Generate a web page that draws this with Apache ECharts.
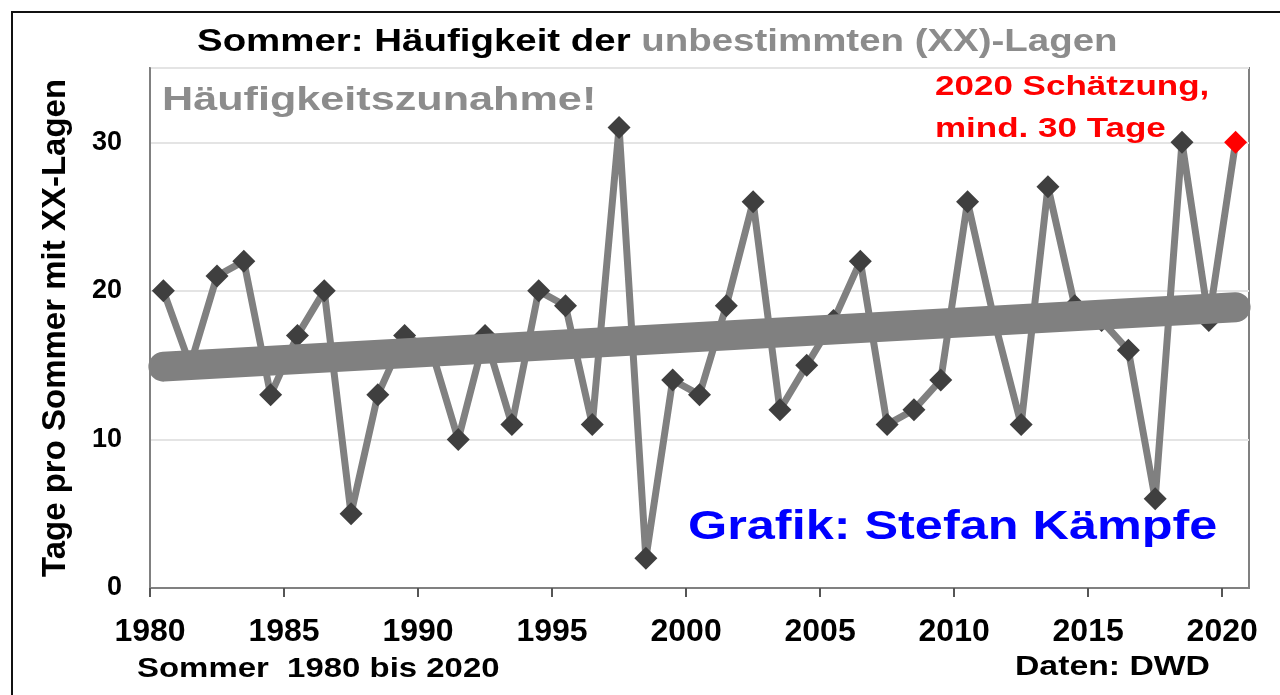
<!DOCTYPE html>
<html>
<head>
<meta charset="utf-8">
<script src="https://cdn.jsdelivr.net/npm/echarts@6/dist/echarts.min.js"></script>
<style>
html, body { margin: 0; padding: 0; background: #fff; }
#chart { width: 1280px; height: 695px; }
</style>
</head>
<body>
<div id="chart"></div>
<script>
// Jahre (Sommer) und Tage mit XX-Lagen
var years = [];
for (var y = 1980; y <= 2020; y++) years.push(String(y));
var xxTage = [20, 15, 21, 22, 13, 17, 20, 5, 13, 17,
              16, 10, 17, 11, 20, 19, 11, 31, 2, 14,
              13, 19, 26, 12, 15, 18, 22, 11, 12, 14,
              26, 18, 11, 27, 19, 18, 16, 6, 30, 18,
              30];
// lineare Trendlinie, Anfang und Ende
var trendLinie = [['1980', 14.9], ['2020', 18.9]];
// 2020 = Schätzung (rot)
var schaetzungJahr = '2020';
var xTicks = [1980, 1985, 1990, 1995, 2000, 2005, 2010, 2015, 2020];
var yTicks = [0, 10, 20, 30];

var FONT = '"Liberation Sans", Arial, sans-serif';
var grau = '#808080';

var punkte = xxTage.map(function (v, i) {
	if (years[i] == schaetzungJahr) {
		return { value: v, itemStyle: { color: '#ff0000' } };
	}
	return v;
});

function txt(x, y, text, size, color, sx, extra) {
	var st = {
		text: text,
		fontFamily: FONT,
		fontWeight: 'bold',
		fontSize: size,
		fill: color,
		align: 'left',
		verticalAlign: 'middle'
	};
	if (extra) for (var k in extra) st[k] = extra[k];
	return { type: 'text', x: x, y: y, scaleX: sx, z: 100, style: st };
}

var chart = echarts.init(document.getElementById('chart'));
var option = {
	backgroundColor: '#fff',
	animation: false,
	grid: {
		left: 150, top: 68, width: 1099, height: 520,
		show: true, borderColor: grau, borderWidth: 2,
		outerBoundsMode: 'none'
	},
	xAxis: [{
		type: 'value',
		min: 1980, max: 2021, interval: 5,
		axisLine: { show: true, lineStyle: { color: grau, width: 2 } },
		axisTick: { show: true, inside: false, length: 9, lineStyle: { color: '#555', width: 2 }, customValues: xTicks },
		axisLabel: {
			customValues: xTicks, margin: 28, color: '#000',
			fontFamily: FONT, fontWeight: 'bold', fontSize: 32,
			formatter: function (v) { return String(v); }
		},
		splitLine: { show: false }
	}, {
		type: 'category',
		data: years,
		boundaryGap: true,
		show: false
	}],
	yAxis: {
		type: 'value',
		min: 0, max: 35, interval: 10,
		name: 'Tage pro Sommer mit XX-Lagen',
		nameLocation: 'middle',
		nameRotate: 90,
		nameGap: 78,
		nameTextStyle: { color: '#000', fontFamily: FONT, fontWeight: 'bold', fontSize: 33 },
		axisLine: { show: true, lineStyle: { color: grau, width: 2 } },
		axisTick: { show: false },
		axisLabel: { customValues: yTicks, margin: 28, color: '#000', fontFamily: FONT, fontWeight: 'bold', fontSize: 27 },
		splitLine: { show: true, lineStyle: { color: '#e4e4e4', width: 2 } }
	},
	series: [{
		name: 'XX-Lagen',
		type: 'line',
		xAxisIndex: 1,
		data: punkte,
		symbol: 'diamond',
		symbolSize: 23,
		showSymbol: true,
		showAllSymbol: true,
		lineStyle: { color: grau, width: 7 },
		itemStyle: { color: '#3f3f3f' },
		z: 2
	}, {
		name: 'Trend',
		type: 'line',
		xAxisIndex: 1,
		data: trendLinie,
		symbol: 'none',
		lineStyle: { color: grau, width: 30, cap: 'round' },
		z: 3
	}],
	graphic: [
		{ type: 'rect', shape: { x: 12, y: 12, width: 1300, height: 720 }, style: { fill: 'none', stroke: '#111', lineWidth: 2 }, z: 0 },
		txt(197, 42, '{a|Sommer: Häufigkeit der }{b|unbestimmten (XX)-Lagen}', 31, '#000', 1.24, {
			rich: {
				a: { fill: '#000', fontFamily: FONT, fontWeight: 'bold', fontSize: 31 },
				b: { fill: '#8c8c8c', fontFamily: FONT, fontWeight: 'bold', fontSize: 31 }
			}
		}),
		txt(162, 101, 'Häufigkeitszunahme!', 34, '#8c8c8c', 1.27),
		txt(935, 87, '2020 Schätzung,', 28, '#ff0000', 1.25),
		txt(935, 129, 'mind. 30 Tage', 28, '#ff0000', 1.25),
		txt(688, 528, 'Grafik: Stefan Kämpfe', 40, '#0000ff', 1.26),
		txt(137, 670, 'Sommer  1980 bis 2020', 27, '#000', 1.22),
		txt(1015, 668, 'Daten: DWD', 27, '#000', 1.25)
	]
};
chart.setOption(option);
</script>
</body>
</html>
